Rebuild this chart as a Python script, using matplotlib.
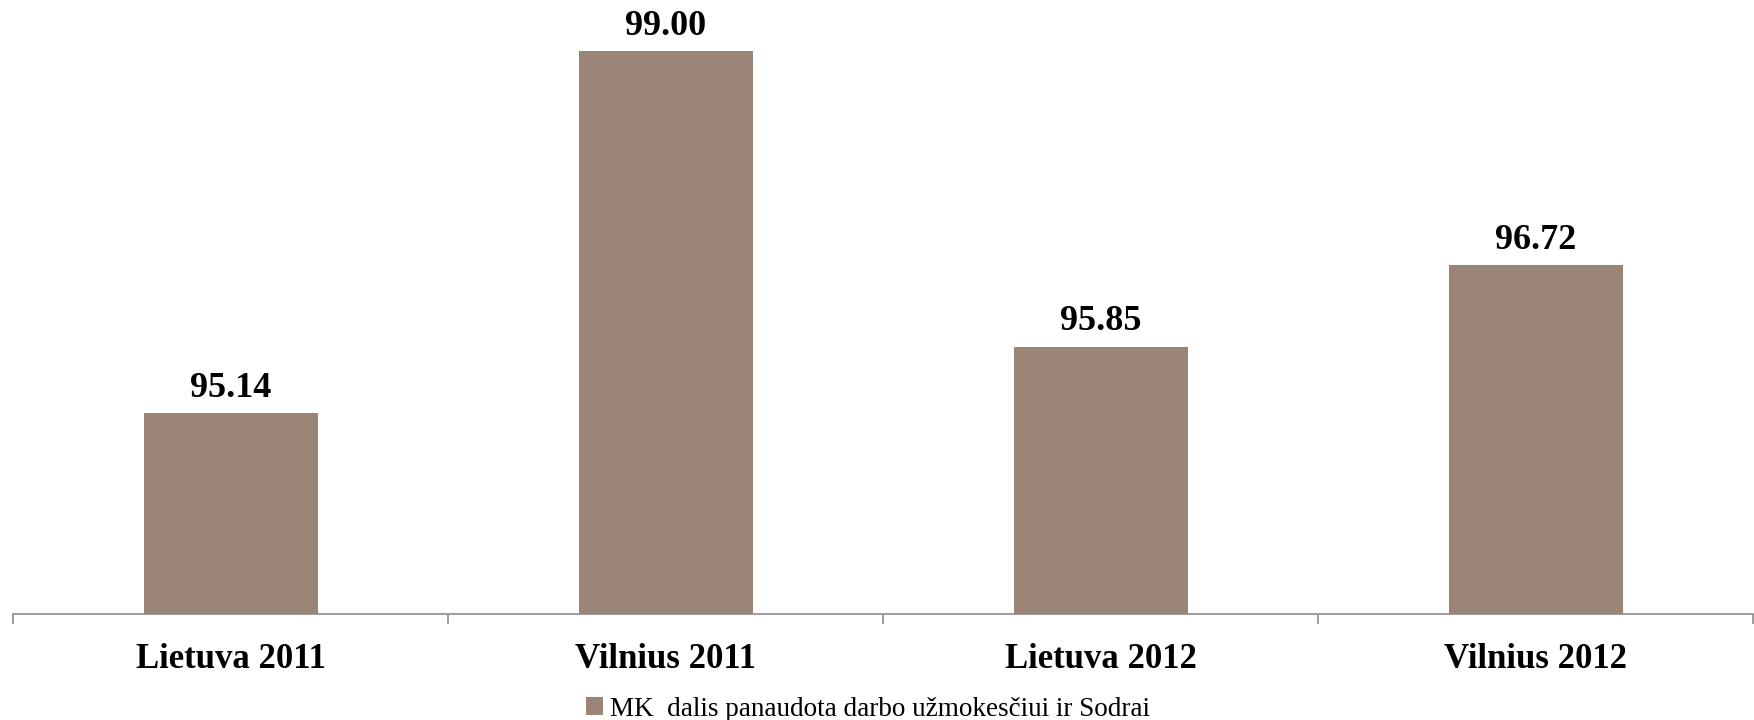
import matplotlib
matplotlib.use("Agg")
import matplotlib.pyplot as plt
from matplotlib.patches import Patch

categories = ["Lietuva 2011", "Vilnius 2011", "Lietuva 2012", "Vilnius 2012"]
values = [95.14, 99.00, 95.85, 96.72]
series_name = "MK  dalis panaudota darbo užmokesčiui ir Sodrai"

bar_color = "#9B8577"
serif = ["Liberation Serif", "DejaVu Serif"]

fig = plt.figure(figsize=(17.54, 7.2), dpi=100)
ax = fig.add_axes([13 / 1754, 1 - 614 / 720, 1 - 14 / 1754, (614 - 4.4) / 720])

x = list(range(len(categories)))
bars = ax.bar(x, values, width=0.4, color=bar_color, linewidth=0, bottom=0)
ax.set_ylim(93, 99.5)
ax.set_xlim(-0.5, len(categories) - 0.5)

for xi, v in zip(x, values):
    ax.annotate(f"{v:.2f}", (xi, v), xytext=(0, 6), textcoords="offset points",
                ha="center", va="bottom", fontsize=26, fontweight="bold",
                family=serif, color="black")

for s in ["top", "right", "left"]:
    ax.spines[s].set_visible(False)
ax.spines["bottom"].set_color("#8c8c8c")
ax.spines["bottom"].set_linewidth(1.2)
ax.set_yticks([])

ax.set_xticks([i - 0.5 for i in range(len(categories) + 1)], minor=False)
ax.set_xticklabels([])
ax.tick_params(axis="x", which="major", length=7, color="#8c8c8c", width=1.2, direction="out")
ax.set_xticks(x, minor=True)
ax.set_xticklabels(categories, minor=True, fontsize=25, fontweight="bold", family=serif)
ax.tick_params(axis="x", which="minor", length=0, pad=21)

handle = Patch(facecolor=bar_color, edgecolor="none")
fig.legend([handle], [series_name], loc="center", bbox_to_anchor=(868 / 1754, 1 - 709 / 720),
           frameon=False, prop={"family": serif, "size": 19.5}, handlelength=0.6,
           handleheight=0.6, handletextpad=0.25)

fig.savefig("out.png", dpi=100)
